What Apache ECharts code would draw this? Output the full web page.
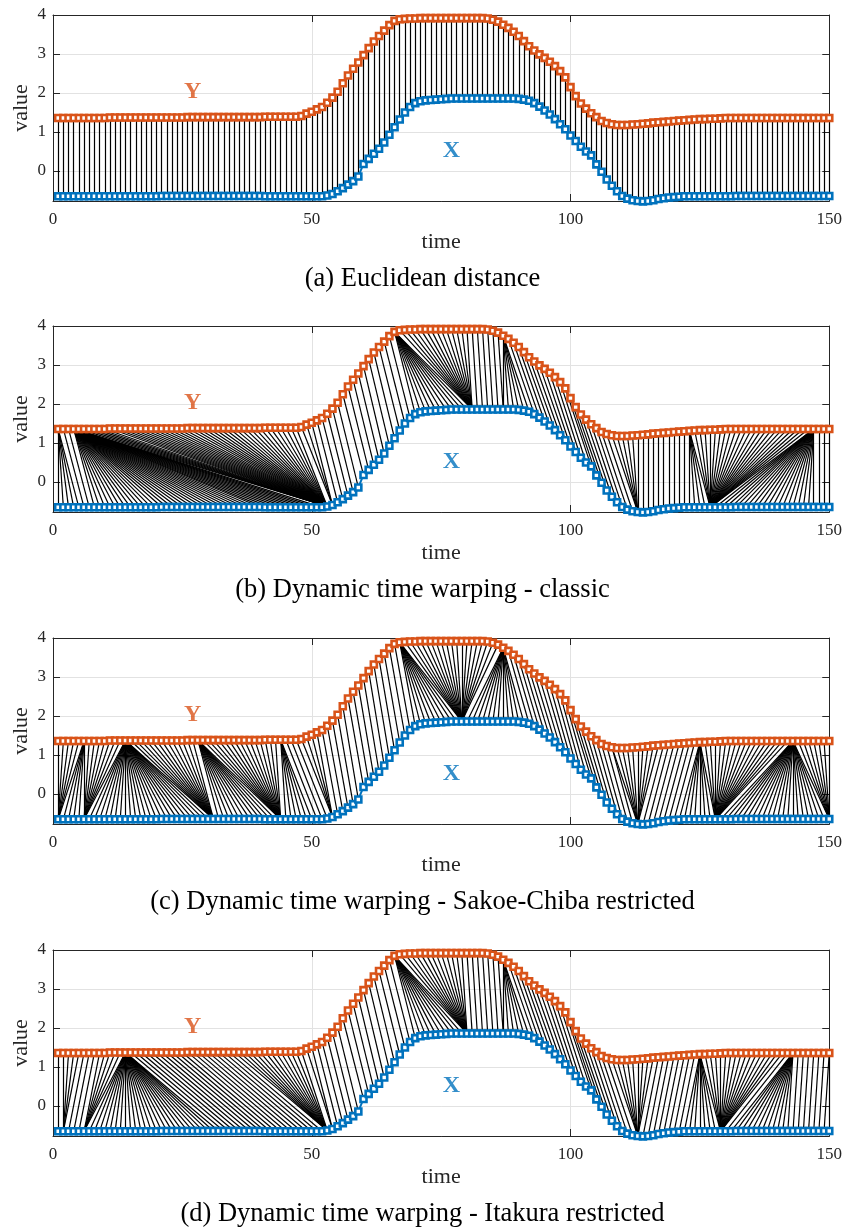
<!DOCTYPE html>
<html><head><meta charset="utf-8">
<script src="https://cdn.jsdelivr.net/npm/echarts@6/dist/echarts.min.js"></script>
<style>html,body{margin:0;padding:0;background:#fff}#c{width:845px;height:1227px}</style>
</head><body><div id="c"></div>
<script>
// ---- data ----
const seriesX = [
-0.65,-0.65,-0.65,-0.65,-0.65,-0.65,-0.65,-0.65,-0.65,-0.65,
-0.65,-0.65,-0.65,-0.65,-0.65,-0.65,-0.65,-0.65,-0.65,-0.65,
-0.64,-0.64,-0.64,-0.64,-0.64,-0.64,-0.64,-0.64,-0.64,-0.64,
-0.64,-0.64,-0.64,-0.64,-0.64,-0.64,-0.64,-0.64,-0.64,-0.64,
-0.65,-0.65,-0.65,-0.65,-0.65,-0.65,-0.65,-0.65,-0.65,-0.65,-0.65,-0.65,
-0.63,-0.59,-0.52,-0.44,-0.35,-0.26,-0.14,0.18,0.31,0.44,
0.57,0.73,0.93,1.12,1.32,1.50,1.64,1.74,1.79,1.81,
1.82,1.83,1.84,1.85,
1.86,1.86,1.86,1.86,1.86,1.86,1.86,1.86,1.86,1.86,1.86,1.86,1.86,
1.85,1.83,1.80,1.74,1.65,1.55,1.45,1.33,1.20,1.07,
0.91,0.77,0.62,0.50,0.40,0.17,-0.02,-0.22,-0.38,-0.52,
-0.64,-0.71,-0.75,-0.77,-0.78,-0.77,-0.75,-0.72,-0.70,-0.68,
-0.67,-0.66,
-0.65,-0.65,-0.65,-0.65,-0.65,-0.65,-0.65,-0.65,-0.65,-0.65,
-0.64,-0.64,-0.64,-0.64,-0.64,-0.64,-0.64,-0.64,-0.64,-0.64,
-0.64,-0.64,-0.64,-0.64,-0.64,-0.64,-0.64,-0.64,-0.64
];
const seriesY = [
1.36,1.36,1.36,1.36,1.36,1.36,1.36,1.36,1.36,1.36,
1.37,1.37,1.37,1.37,1.37,1.37,1.37,1.37,1.37,1.37,1.37,1.37,1.37,1.37,1.37,
1.38,1.38,1.38,1.38,1.38,1.38,1.38,1.38,1.38,1.38,1.38,1.38,1.38,1.38,1.38,
1.39,1.39,1.39,1.39,1.39,1.39,1.39,
1.41,1.47,1.52,1.58,1.64,1.75,1.88,2.03,2.25,2.45,
2.62,2.78,2.97,3.15,3.32,3.46,3.60,3.74,3.85,3.89,
3.90,3.91,3.91,
3.92,3.92,3.92,3.92,3.92,3.92,3.92,3.92,3.92,3.92,3.92,3.92,3.92,
3.91,3.88,3.83,3.75,3.67,3.57,3.46,3.33,3.20,3.09,
2.99,2.90,2.80,2.69,2.56,2.40,2.15,1.92,1.73,1.60,
1.48,1.38,1.28,1.23,1.20,1.18,1.18,1.18,1.19,1.20,
1.21,1.22,1.24,1.25,1.26,1.27,1.28,1.29,1.30,1.31,
1.32,1.33,1.33,1.34,1.34,1.35,
1.36,1.36,1.36,1.36,1.36,1.36,1.36,1.36,1.36,1.36,
1.36,1.36,1.36,1.36,1.36,1.36,1.36,1.36,1.36,1.36,1.36
];
const xTicks = [0, 50, 100, 150];
const yTicks = [0, 1, 2, 3, 4];
const captions = [
  '(a) Euclidean distance',
  '(b) Dynamic time warping - classic',
  '(c) Dynamic time warping - Sakoe-Chiba restricted',
  '(d) Dynamic time warping - Itakura restricted'
];
// warping paths as corner points [X index, Y index]; between corners the path
// runs straight (one index fixed) or diagonally (both indices step together)
const pathA = [[1,1],[150,150]];
const pathB = [[1,1],[5,1],[8,4],[53,4],[53,47],[54,48],[54,50],[70,66],[81,66],[81,80],[87,86],[87,87],[92,87],[113,108],[113,113],[123,123],[127,123],[127,147],[147,147],[150,150]];
const pathC = [[1,1],[1,6],[6,6],[6,14],[31,14],[31,27],[32,28],[44,28],[44,43],[45,44],[50,44],[54,48],[54,51],[70,67],[79,67],[79,86],[80,87],[91,87],[112,108],[113,108],[113,117],[121,125],[128,125],[128,142],[129,143],[150,143],[150,150]];
const pathD = [[1,1],[2,2],[2,5],[6,9],[6,14],[32,14],[52,34],[53,35],[53,48],[54,49],[54,50],[70,66],[80,66],[80,79],[87,86],[87,87],[92,87],[113,108],[113,116],[122,125],[129,125],[129,141],[131,143],[142,143],[149,150],[150,150]];
const paths = [pathA, pathB, pathC, pathD];
const annotations = [{text:'Y', t:27, v:2.04, color:'#D95319'}, {text:'X', t:77, v:0.53, color:'#0072BD'}];

// ---- layout ----
const panelTops = [15, 326, 638, 950];
const panelH = 186, gLeft = 53, gRight = 15;
const yMin = -0.77, yMax = 4;
const SERIF = '"Liberation Serif", "Times New Roman", serif';
const AX = '#262626', GRIDC = '#e2e2e2';

function expand(corners) {
  const out = [];
  corners.forEach((c, k) => {
    if (k === 0) { out.push([c[0], c[1]]); return; }
    let pi = corners[k-1][0], pj = corners[k-1][1];
    while (pi !== c[0] || pj !== c[1]) {
      if (pi < c[0]) pi++;
      if (pj < c[1]) pj++;
      out.push([pi, pj]);
    }
  });
  return out;
}

const grids = [], xAxes = [], yAxes = [], series = [], graphics = [];
panelTops.forEach((top, k) => {
  grids.push({left: gLeft, right: gRight, top: top, height: panelH, containLabel: false});
  const baseX = {
    type: 'value', gridIndex: k, min: 0, max: 150, interval: 50,
    axisLine: {show: true, onZero: false, lineStyle: {color: AX, width: 1}},
    axisTick: {show: true, inside: true, length: 7, lineStyle: {color: AX}}
  };
  xAxes.push(Object.assign({}, baseX, {
    position: 'bottom',
    axisLabel: {show: true, margin: 10, fontFamily: SERIF, fontSize: 17, color: AX,
      formatter: v => xTicks.includes(v) ? String(v) : ''},
    splitLine: {show: true, lineStyle: {color: GRIDC, width: 1}},
    name: 'time', nameLocation: 'middle', nameGap: 30, nameMoveOverlap: false,
    nameTextStyle: {fontFamily: SERIF, fontSize: 22, color: AX}
  }));
  xAxes.push(Object.assign({}, baseX, {
    position: 'top', axisLabel: {show: false}, splitLine: {show: false}
  }));
  const baseY = {
    type: 'value', gridIndex: k, min: yMin, max: yMax, splitNumber: 5,
    axisLine: {show: true, onZero: false, lineStyle: {color: AX, width: 1}},
    axisTick: {show: true, inside: true, length: 7, lineStyle: {color: AX}}
  };
  yAxes.push(Object.assign({}, baseY, {
    position: 'left',
    axisLabel: {show: true, margin: 7, fontFamily: SERIF, fontSize: 17, color: AX,
      formatter: v => { const r = Math.round(v * 1000) / 1000; return yTicks.includes(r) ? String(r) : ''; }},
    splitLine: {show: true, lineStyle: {color: GRIDC, width: 1}},
    name: 'value', nameLocation: 'middle', nameGap: 21, nameMoveOverlap: false,
    nameTextStyle: {fontFamily: SERIF, fontSize: 22, color: AX}
  }));
  yAxes.push(Object.assign({}, baseY, {
    position: 'right', axisLabel: {show: false}, splitLine: {show: false}
  }));
  const xi = k * 2, yi = k * 2;
  series.push({
    type: 'lines', coordinateSystem: 'cartesian2d', xAxisIndex: xi, yAxisIndex: yi,
    silent: true, animation: false, z: 2,
    lineStyle: {color: '#000', width: 1.2, opacity: 1},
    data: expand(paths[k]).map(p => ({coords: [[p[0], seriesX[p[0]-1]], [p[1], seriesY[p[1]-1]]]}))
  });
  [[seriesX, '#0072BD'], [seriesY, '#D95319']].forEach(([arr, col]) => {
    series.push({
      type: 'line', xAxisIndex: xi, yAxisIndex: yi, clip: false, animation: false, silent: true, z: 3,
      showAllSymbol: true, symbol: 'rect', symbolSize: 6,
      lineStyle: {color: col, width: 2},
      itemStyle: {color: '#fff', borderColor: col, borderWidth: 2.6},
      data: arr.map((v, i) => [i + 1, v])
    });
  });
  series.push({
    type: 'scatter', xAxisIndex: xi, yAxisIndex: yi, symbolSize: 0, silent: true, animation: false, z: 4,
    data: annotations.map(a => ({value: [a.t, a.v], label: {show: true, position: 'inside', formatter: a.text,
      fontFamily: SERIF, fontWeight: 'bold', fontSize: 24, color: a.color}}))
  });
  graphics.push({
    type: 'text', left: 'center', top: top + 266 - 15,
    style: {text: captions[k], font: '26.5px ' + SERIF, fill: '#000'}
  });
});

const chart = echarts.init(document.getElementById('c'), null, {renderer: 'canvas'});
chart.setOption({
  animation: false, backgroundColor: '#fff',
  grid: grids, xAxis: xAxes, yAxis: yAxes, series: series, graphic: graphics
});
</script></body></html>
